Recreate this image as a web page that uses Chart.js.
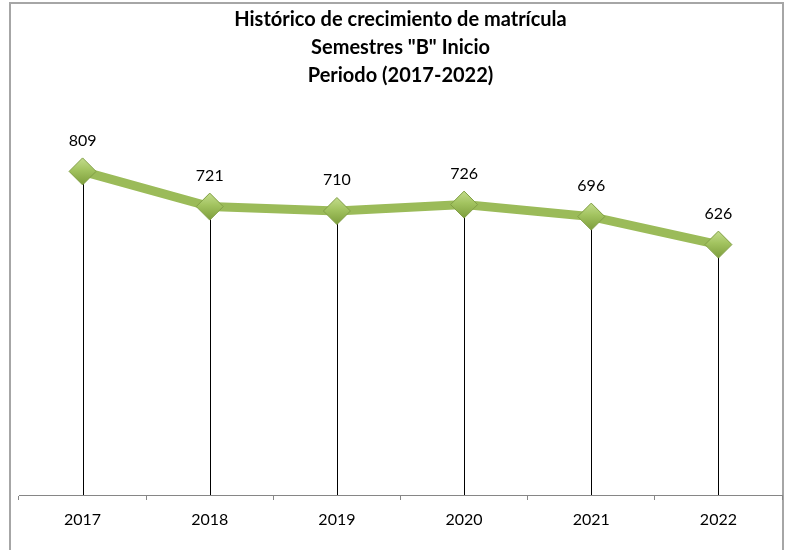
<!DOCTYPE html>
<html>
<head>
<meta charset="utf-8">
<script src="https://cdn.jsdelivr.net/npm/chart.js@4.4.1/dist/chart.umd.min.js"></script>
<style>
  html, body { margin: 0; padding: 0; background: #fff; }
  #wrap { width: 790px; height: 550px; }
</style>
</head>
<body>
<div id="wrap"><canvas id="c" width="790" height="550"></canvas></div>
<script>
const years = ["2017", "2018", "2019", "2020", "2021", "2022"];
const matricula = [809, 721, 710, 726, 696, 626];
const titleLines = ["Histórico de crecimiento de matrícula", "Semestres \"B\" Inicio", "Periodo (2017-2022)"];

const FONT = "Lato, 'Open Sans', sans-serif";
const GREEN = "#9bbb59";
const R = 13.5;

// outer chart frame, as in the spreadsheet export
const frame = {
  id: "frame",
  beforeDraw(chart) {
    const ctx = chart.ctx;
    ctx.save();
    ctx.strokeStyle = "#a6a6a6";
    ctx.lineWidth = 2;
    ctx.strokeRect(10, 3, 773, 560);
    ctx.restore();
  }
};

// vertical drop lines from each point down to the category axis
const dropLines = {
  id: "dropLines",
  beforeDatasetsDraw(chart) {
    const ctx = chart.ctx, bottom = chart.chartArea.bottom;
    ctx.save();
    ctx.strokeStyle = "#000";
    ctx.lineWidth = 1;
    chart.getDatasetMeta(0).data.forEach(p => {
      const x = Math.round(p.x) + 0.5;
      ctx.beginPath(); ctx.moveTo(x, p.y); ctx.lineTo(x, bottom); ctx.stroke();
    });
    ctx.restore();
  }
};

// value labels above the markers
const valueLabels = {
  id: "valueLabels",
  afterDatasetsDraw(chart) {
    const ctx = chart.ctx, ds = chart.data.datasets[0];
    ctx.save();
    ctx.font = "16px " + FONT;
    ctx.fillStyle = "#000";
    ctx.textAlign = "center";
    ctx.textBaseline = "middle";
    chart.getDatasetMeta(0).data.forEach((p, i) => ctx.fillText(ds.data[i], p.x, p.y - 31));
    ctx.restore();
  }
};

// bevel-like shading on the diamond markers
const markerFill = c => {
  const ys = c.chart.scales && c.chart.scales.y;
  const y = ys && c.type === "data" ? ys.getPixelForValue(c.raw) : NaN;
  if (!isFinite(y)) return "#9dbf58";
  const g = c.chart.ctx.createLinearGradient(0, y - R, 0, y + R);
  g.addColorStop(0, "#c3dc8c");
  g.addColorStop(0.45, "#a2c35f");
  g.addColorStop(1, "#7d9d3c");
  return g;
};

new Chart(document.getElementById("c"), {
  type: "line",
  data: {
    labels: years,
    datasets: [{
      label: "Matrícula",
      data: matricula,
      borderColor: GREEN,
      borderWidth: 9,
      tension: 0,
      pointStyle: "rectRot",
      pointRadius: R,
      pointHoverRadius: R,
      pointBackgroundColor: markerFill,
      pointBorderColor: "#819f45",
      pointBorderWidth: 1,
    }]
  },
  options: {
    responsive: false,
    animation: false,
    events: [],
    layout: { autoPadding: false, padding: { left: 19, right: 8, top: 0, bottom: 0 } },
    plugins: {
      legend: { display: false },
      tooltip: { enabled: false },
      title: {
        display: true,
        text: titleLines,
        color: "#000",
        font: { family: FONT, size: 20, weight: "bold", lineHeight: 28 / 20 },
        padding: { top: 6, bottom: 5 },
      },
    },
    scales: {
      y: { display: false, min: 0, max: 1000 },
      x: {
        offset: true,
        afterFit: s => { s.height = 55; },
        border: { color: "#868686", width: 1 },
        grid: { offset: true, drawOnChartArea: false, tickLength: 5, color: "#868686" },
        ticks: { color: "#000", padding: 10, font: { family: FONT, size: 16 } },
      },
    },
  },
  plugins: [frame, dropLines, valueLabels],
});
</script>
</body>
</html>
